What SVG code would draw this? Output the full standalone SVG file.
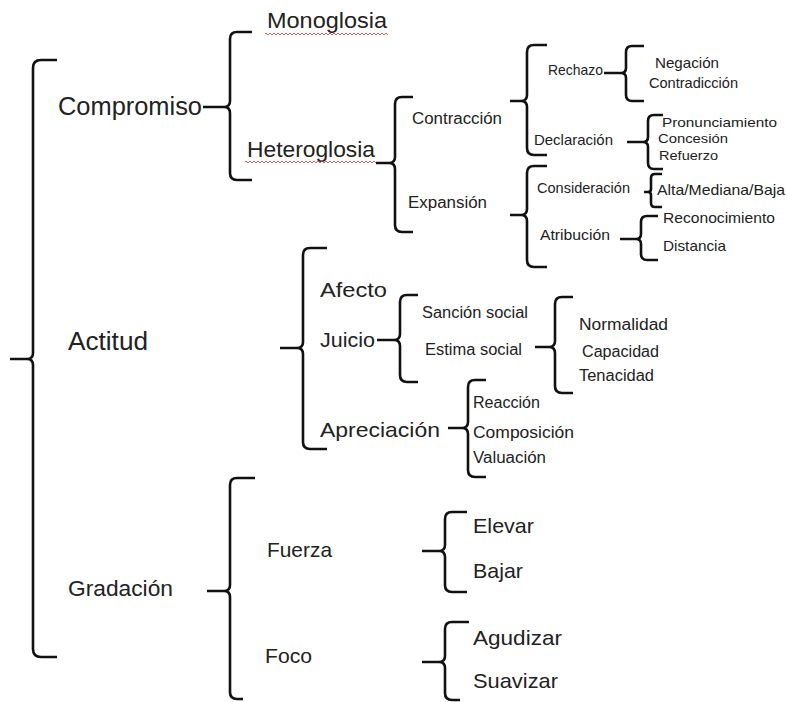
<svg xmlns="http://www.w3.org/2000/svg" width="787" height="702" viewBox="0 0 787 702">
<defs>
<style>
text{font-family:"Liberation Sans",Arial,sans-serif;fill:#222}
.t25{font-size:25px}
.t22{font-size:22px}
.t21{font-size:21px}
.t16{font-size:16px}
.t14{font-size:14.5px}
.t13{font-size:13px}
.brace{fill:none;stroke:#111;stroke-width:2.6;stroke-linejoin:round}
</style>
<pattern id="wave" width="4" height="4" patternUnits="userSpaceOnUse">
<path d="M0,3 L2,1 L4,3" fill="none" stroke="#d33" stroke-width="0.8"/>
</pattern>
</defs>
<rect width="787" height="702" fill="#fff"/>
<g id="connectors">
<path class="brace" d="M57,60 H41 Q33,60 33,68 V353 Q33,359 27,359 H10 M27,359 Q33,359 33,365 V649 Q33,657 41,657 H57"/>
<path class="brace" d="M252,32 H237 Q230,32 230,39 V101 Q230,107 224,107 H203 M224,107 Q230,107 230,113 V173 Q230,180 237,180 H252"/>
<path class="brace" d="M413,97 H402 Q395,97 395,104 V157 Q395,163 389,163 H376 M389,163 Q395,163 395,169 V225 Q395,232 402,232 H413"/>
<path class="brace" d="M547,45 H534 Q527,45 527,52 V95 Q527,101 521,101 H510 M521,101 Q527,101 527,107 V148 Q527,155 534,155 H547"/>
<path class="brace" d="M547,166 H534 Q527,166 527,173 V209 Q527,215 521,215 H510 M521,215 Q527,215 527,221 V260 Q527,267 534,267 H547"/>
<path class="brace" d="M644,46 H632 Q626,46 626,52 V68 Q626,73 621,73 H604 M621,73 Q626,73 626,78 V95 Q626,101 632,101 H644"/>
<path class="brace" d="M663,115 H654 Q648,115 648,121 V137 Q648,142 643,142 H627 M643,142 Q648,142 648,147 V163 Q648,169 654,169 H663"/>
<path class="brace" d="M662,174 H655 Q651,174 651,178 V189 Q651,192 648,192 H644 M648,192 Q651,192 651,195 V203 Q651,207 655,207 H662"/>
<path class="brace" d="M658,216 H647 Q641,216 641,222 V234 Q641,239 636,239 H620 M636,239 Q641,239 641,244 V254 Q641,260 647,260 H658"/>
<path class="brace" d="M327,248 H310 Q303,248 303,255 V342 Q303,348 297,348 H280 M297,348 Q303,348 303,354 V442 Q303,449 310,449 H327"/>
<path class="brace" d="M418,295 H407 Q400,295 400,302 V334 Q400,340 394,340 H377 M394,340 Q400,340 400,346 V375 Q400,382 407,382 H418"/>
<path class="brace" d="M573,297 H562 Q555,297 555,304 V341 Q555,347 549,347 H535 M549,347 Q555,347 555,353 V386 Q555,393 562,393 H573"/>
<path class="brace" d="M486,380 H475 Q468,380 468,387 V422 Q468,428 462,428 H448 M462,428 Q468,428 468,434 V470 Q468,477 475,477 H486"/>
<path class="brace" d="M255,478 H237 Q230,478 230,485 V585 Q230,591 224,591 H207 M224,591 Q230,591 230,597 V692 Q230,699 237,699 H243"/>
<path class="brace" d="M467,512 H452 Q445,512 445,519 V545 Q445,551 439,551 H422 M439,551 Q445,551 445,557 V585 Q445,592 452,592 H467"/>
<path class="brace" d="M469,622 H452 Q445,622 445,629 V656 Q445,662 439,662 H422 M439,662 Q445,662 445,668 V693 Q445,700 452,700 H460"/>
</g>
<g id="n-compromiso"><text class="t25" x="58" y="115" textLength="144" lengthAdjust="spacingAndGlyphs">Compromiso</text></g>
<g id="n-monoglosia"><text class="t22" x="267" y="28" textLength="120" lengthAdjust="spacingAndGlyphs">Monoglosia</text><rect x="265" y="32" width="123" height="4" fill="url(#wave)"/></g>
<g id="n-heteroglosia"><text class="t22" x="247" y="157" textLength="128" lengthAdjust="spacingAndGlyphs">Heteroglosia</text><rect x="245" y="160" width="131" height="4" fill="url(#wave)"/></g>
<g id="n-contraccion"><text class="t16" x="412" y="124" textLength="90" lengthAdjust="spacingAndGlyphs">Contracción</text></g>
<g id="n-expansion"><text class="t16" x="408" y="208" textLength="79" lengthAdjust="spacingAndGlyphs">Expansión</text></g>
<g id="n-rechazo"><text class="t14" x="548" y="75" textLength="55" lengthAdjust="spacingAndGlyphs">Rechazo</text></g>
<g id="n-declaracion"><text class="t14" x="534" y="145" textLength="79" lengthAdjust="spacingAndGlyphs">Declaración</text></g>
<g id="n-consideracion"><text class="t14" x="537" y="193" textLength="93" lengthAdjust="spacingAndGlyphs">Consideración</text></g>
<g id="n-atribucion"><text class="t14" x="540" y="240" textLength="70" lengthAdjust="spacingAndGlyphs">Atribución</text></g>
<g id="n-negacion"><text class="t14" x="655" y="68" textLength="64" lengthAdjust="spacingAndGlyphs">Negación</text></g>
<g id="n-contradiccion"><text class="t14" x="649" y="88" textLength="89" lengthAdjust="spacingAndGlyphs">Contradicción</text></g>
<g id="n-pronunciamiento"><text class="t13" x="662" y="127" textLength="115" lengthAdjust="spacingAndGlyphs">Pronunciamiento</text></g>
<g id="n-concesion"><text class="t13" x="658" y="143" textLength="70" lengthAdjust="spacingAndGlyphs">Concesión</text></g>
<g id="n-refuerzo"><text class="t13" x="659" y="160" textLength="59" lengthAdjust="spacingAndGlyphs">Refuerzo</text></g>
<g id="n-alta"><text class="t14" x="657" y="195" textLength="128" lengthAdjust="spacingAndGlyphs">Alta/Mediana/Baja</text></g>
<g id="n-reconocimiento"><text class="t14" x="663" y="223" textLength="112" lengthAdjust="spacingAndGlyphs">Reconocimiento</text></g>
<g id="n-distancia"><text class="t14" x="663" y="251" textLength="63" lengthAdjust="spacingAndGlyphs">Distancia</text></g>
<g id="n-actitud"><text class="t25" x="68" y="350" textLength="80" lengthAdjust="spacingAndGlyphs">Actitud</text></g>
<g id="n-afecto"><text class="t21" x="320" y="297" textLength="67" lengthAdjust="spacingAndGlyphs">Afecto</text></g>
<g id="n-juicio"><text class="t21" x="320" y="347" textLength="55" lengthAdjust="spacingAndGlyphs">Juicio</text></g>
<g id="n-apreciacion"><text class="t21" x="320" y="437" textLength="120" lengthAdjust="spacingAndGlyphs">Apreciación</text></g>
<g id="n-sancion"><text class="t16" x="422" y="318" textLength="106" lengthAdjust="spacingAndGlyphs">Sanción social</text></g>
<g id="n-estima"><text class="t16" x="425" y="355" textLength="97" lengthAdjust="spacingAndGlyphs">Estima social</text></g>
<g id="n-normalidad"><text class="t16" x="579" y="330" textLength="89" lengthAdjust="spacingAndGlyphs">Normalidad</text></g>
<g id="n-capacidad"><text class="t16" x="582" y="357" textLength="77" lengthAdjust="spacingAndGlyphs">Capacidad</text></g>
<g id="n-tenacidad"><text class="t16" x="579" y="381" textLength="75" lengthAdjust="spacingAndGlyphs">Tenacidad</text></g>
<g id="n-reaccion"><text class="t16" x="473" y="408" textLength="67" lengthAdjust="spacingAndGlyphs">Reacción</text></g>
<g id="n-composicion"><text class="t16" x="473" y="438" textLength="101" lengthAdjust="spacingAndGlyphs">Composición</text></g>
<g id="n-valuacion"><text class="t16" x="473" y="463" textLength="73" lengthAdjust="spacingAndGlyphs">Valuación</text></g>
<g id="n-gradacion"><text class="t22" x="68" y="596" textLength="105" lengthAdjust="spacingAndGlyphs">Gradación</text></g>
<g id="n-fuerza"><text class="t21" x="267" y="557" textLength="65" lengthAdjust="spacingAndGlyphs">Fuerza</text></g>
<g id="n-foco"><text class="t21" x="265" y="663" textLength="47" lengthAdjust="spacingAndGlyphs">Foco</text></g>
<g id="n-elevar"><text class="t21" x="473" y="533" textLength="61" lengthAdjust="spacingAndGlyphs">Elevar</text></g>
<g id="n-bajar"><text class="t21" x="473" y="578" textLength="50" lengthAdjust="spacingAndGlyphs">Bajar</text></g>
<g id="n-agudizar"><text class="t21" x="473" y="645" textLength="89" lengthAdjust="spacingAndGlyphs">Agudizar</text></g>
<g id="n-suavizar"><text class="t21" x="473" y="688" textLength="85" lengthAdjust="spacingAndGlyphs">Suavizar</text></g>
</svg>
